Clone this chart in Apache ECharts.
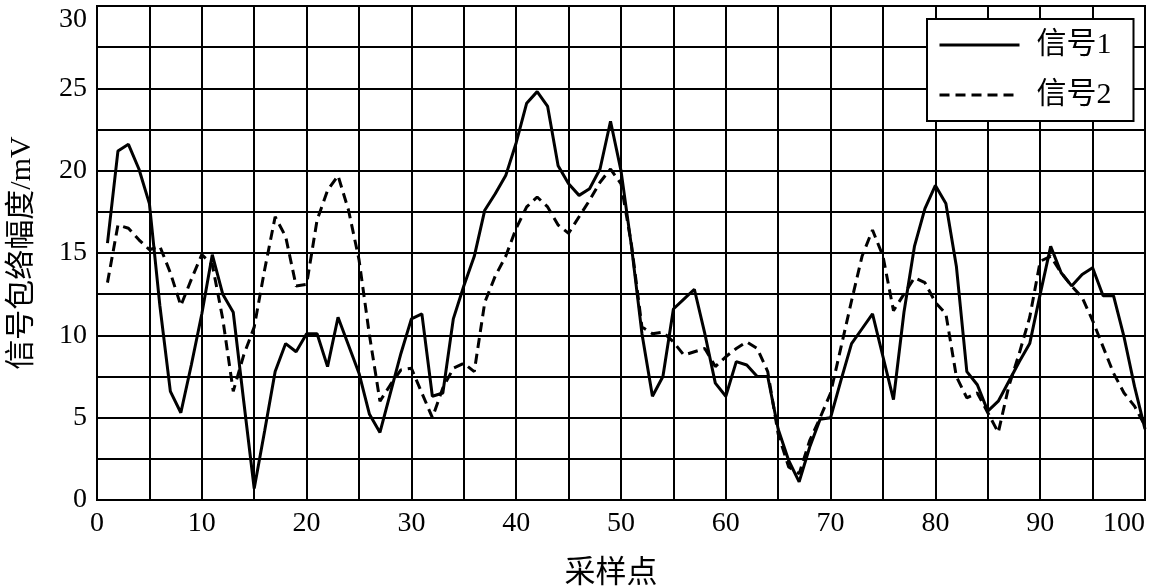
<!DOCTYPE html>
<html>
<head>
<meta charset="utf-8">
<script src="https://cdn.jsdelivr.net/npm/echarts@6/dist/echarts.min.js"></script>
<style>
html,body{margin:0;padding:0;background:#fff;}
#c{width:1153px;height:588px;}
</style>
</head>
<body>
<div id="c"></div>
<script>
// sample indices 1..100
var samples = [];
for (var i = 1; i <= 100; i++) samples.push(i);

var signal1 = [
  15.6, 21.2, 21.6, 20.1, 18.0, 11.8, 6.6, 5.3, 8.2, 11.3,
  14.9, 12.5, 11.4, 6.0, 0.7, 4.2, 7.8, 9.5, 9.0, 10.1,
  10.1, 8.1, 11.1, 9.4, 7.7, 5.2, 4.1, 6.5, 8.9, 11.0,
  11.3, 6.3, 6.5, 11.0, 13.0, 14.8, 17.6, 18.6, 19.7, 21.7,
  24.1, 24.8, 23.9, 20.3, 19.2, 18.5, 18.9, 20.1, 23.0, 20.0,
  15.4, 10.1, 6.3, 7.5, 11.6, 12.2, 12.8, 10.1, 7.1, 6.3,
  8.4, 8.2, 7.5, 7.5, 4.3, 2.4, 1.1, 3.2, 4.9, 5.0,
  7.3, 9.5, 10.4, 11.3, 8.7, 6.1, 11.4, 15.4, 17.7, 19.1,
  18.0, 14.2, 7.8, 7.0, 5.4, 6.0, 7.2, 8.4, 9.5, 12.5,
  15.4, 13.8, 13.0, 13.7, 14.1, 12.4, 12.4, 9.9, 6.9, 4.3
];

var signal2 = [
  13.2, 16.7, 16.5, 15.8, 15.2, 15.4, 13.8, 11.8, 13.4, 14.9,
  14.3, 11.0, 6.6, 8.8, 10.5, 14.0, 17.2, 16.0, 13.0, 13.1,
  17.0, 18.8, 19.7, 17.6, 14.6, 10.0, 6.0, 7.0, 7.9, 8.0,
  6.5, 5.0, 6.8, 8.0, 8.3, 7.8, 12.0, 13.6, 14.8, 16.5,
  17.8, 18.4, 17.8, 16.7, 16.2, 17.2, 18.2, 19.3, 20.1, 19.2,
  15.5, 10.5, 10.1, 10.2, 9.6, 8.8, 9.0, 9.2, 8.1, 8.7,
  9.2, 9.6, 9.2, 7.8, 4.0, 2.0, 1.6, 3.6, 5.0, 6.5,
  9.3, 12.1, 14.8, 16.4, 14.8, 11.5, 12.5, 13.5, 13.2, 12.0,
  11.3, 7.5, 6.2, 6.5, 5.3, 4.1, 6.9, 8.9, 11.1, 14.5,
  14.8, 13.8, 13.0, 12.3, 10.9, 9.3, 7.7, 6.5, 5.7, 4.5
];

var seriesNames = ['信号1', '信号2'];
var xTickLabels = [0, 10, 20, 30, 40, 50, 60, 70, 80, 90, 100];
var yTickLabels = [0, 5, 10, 15, 20, 25, 30];
var xTitle = '采样点';
var yTitle = '信号包络幅度/mV';

function pairs(ys) {
  return samples.map(function (x, k) { return [x, ys[k]]; });
}

var FONT = '"Liberation Serif", "Noto Sans CJK SC", serif';

var chart = echarts.init(document.getElementById('c'), null, {renderer: 'canvas'});
chart.setOption({
  animation: false,
  backgroundColor: '#fff',
  textStyle: {fontFamily: FONT, color: '#000'},
  grid: {
    left: 97, right: 8, top: 6, bottom: 88,
    containLabel: false,
    outerBoundsMode: 'none',
    show: true, borderColor: '#000', borderWidth: 2
  },
  legend: {
    left: 927, top: 19,
    orient: 'vertical',
    backgroundColor: '#fff',
    borderColor: '#000', borderWidth: 2, borderRadius: 0,
    padding: [11, 22, 11, 11],
    itemWidth: 80, itemHeight: 30, itemGap: 20,
    itemStyle: {opacity: 0},
    lineStyle: {width: 3},
    textStyle: {fontFamily: FONT, fontSize: 30, color: '#000', padding: [0, 0, 0, 12]},
    data: seriesNames
  },
  xAxis: {
    type: 'value', min: 0, max: 100, interval: 5,
    name: xTitle, nameLocation: 'middle', nameGap: 58,
    nameTextStyle: {fontFamily: FONT, fontSize: 31, color: '#000', padding: [0, 20, 0, 0]},
    axisLine: {show: true, lineStyle: {color: '#000', width: 2}},
    axisTick: {show: false},
    axisLabel: {
      fontFamily: FONT, fontSize: 28, color: '#000', margin: 10,
      alignMaxLabel: 'right',
      formatter: function (v) { return xTickLabels.indexOf(v) >= 0 ? String(v) : ''; }
    },
    splitLine: {show: true, lineStyle: {color: '#000', width: 2}}
  },
  yAxis: {
    type: 'value', min: 0, max: 30, interval: 2.5,
    name: yTitle, nameLocation: 'middle', nameGap: 60,
    nameTextStyle: {fontFamily: FONT, fontSize: 30, color: '#000'},
    axisLine: {show: true, lineStyle: {color: '#000', width: 2}},
    axisTick: {show: false},
    axisLabel: {
      fontFamily: FONT, fontSize: 28, color: '#000', margin: 10,
      verticalAlignMaxLabel: 'top',
      formatter: function (v) { return yTickLabels.indexOf(v) >= 0 ? String(v) : ''; }
    },
    splitLine: {show: true, lineStyle: {color: '#000', width: 2}}
  },
  series: [
    {
      name: seriesNames[0], type: 'line', data: pairs(signal1),
      symbol: 'none', smooth: false,
      lineStyle: {color: '#000', width: 3, type: 'solid'},
      itemStyle: {color: '#000'}
    },
    {
      name: seriesNames[1], type: 'line', data: pairs(signal2),
      symbol: 'none', smooth: false,
      lineStyle: {color: '#000', width: 3, type: [10, 6]},
      itemStyle: {color: '#000'}
    }
  ]
});
</script>
</body>
</html>
